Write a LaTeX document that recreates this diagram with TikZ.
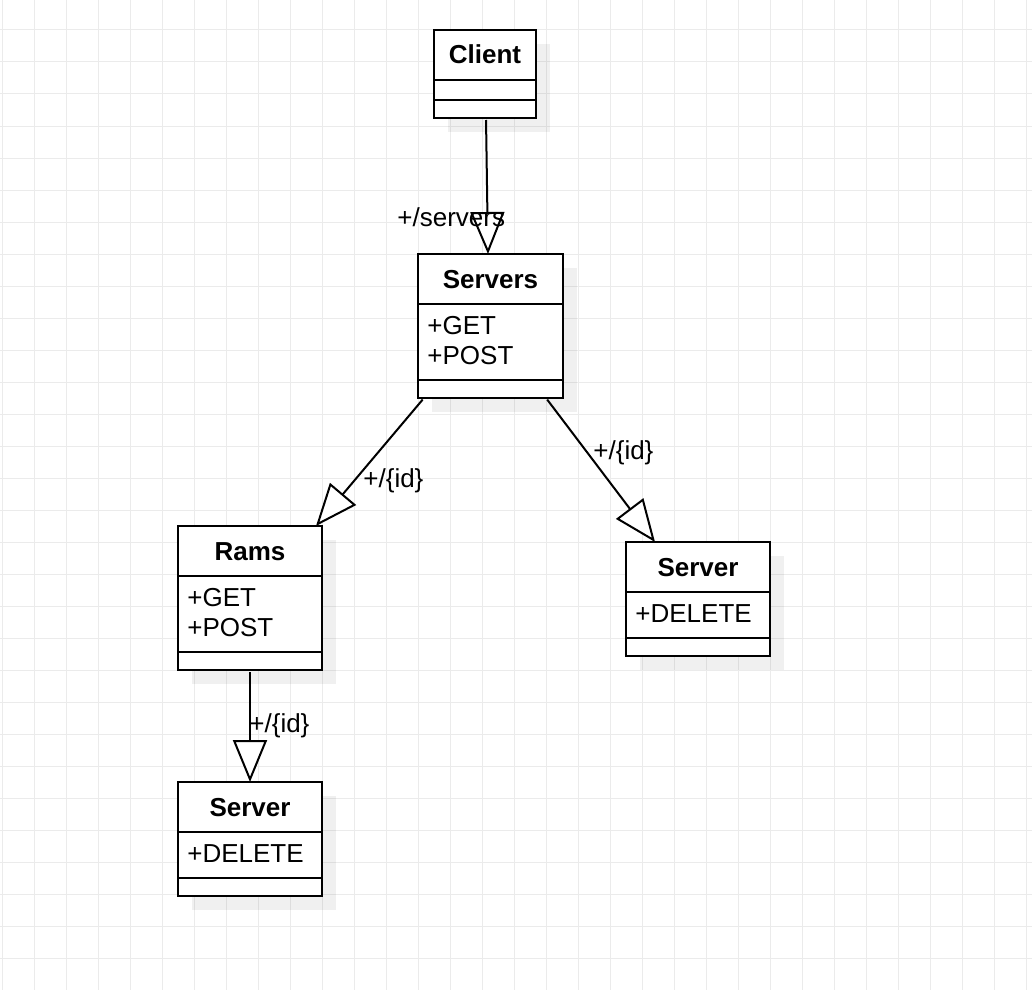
\documentclass[tikz,border=0pt]{standalone}
\usepackage{fontspec}
\setmainfont{Liberation Sans}
\usetikzlibrary{arrows.meta,shadows,calc}
\definecolor{gridgray}{RGB}{235,235,235}
\begin{document}
\begin{tikzpicture}[
      x=0.5pt, y=-0.5pt, % one unit = one pixel of the sketch
      font=\fontsize{13}{15}\selectfont,
      classbox/.style={draw, line width=1pt, fill=white, inner sep=0pt, outer sep=0pt,
        anchor=north west,
        drop shadow={shadow xshift=7pt, shadow yshift=-7pt, fill=black!50, opacity=0.12}},
      divider/.style={line width=1pt},
      classname/.style={font=\fontsize{13}{15}\selectfont\bfseries, inner sep=0pt, anchor=base},
      member/.style={inner sep=0pt, anchor=base west},
      lbl/.style={inner sep=0pt, anchor=base west},
      link/.style={line width=1pt, shorten <=1pt,
        -{Triangle[fill=white, length=21pt, width=17pt]}}
  ]

\useasboundingbox (0,0) rectangle (1032,990);

% background grid
\foreach \gx in {2,34,...,1026}
    \draw[gridgray, line width=0.5pt] (\gx,0) -- (\gx,990);
\foreach \gy in {30,62,...,958}
    \draw[gridgray, line width=0.5pt] (0,\gy) -- (1032,\gy);

% classes
\node[classbox, minimum width=51pt, minimum height=44pt] (client) at (434,30) {};
\node[classbox, minimum width=72.5pt, minimum height=72pt] (servers) at (418,254) {};
\node[classbox, minimum width=72pt, minimum height=72pt] (rams) at (178,526) {};
\node[classbox, minimum width=72pt, minimum height=57pt] (server) at (626,542) {};
\node[classbox, minimum width=72pt, minimum height=57pt] (ramserver) at (178,782) {};

\foreach \n/\d in {client/50, client/70, servers/50, servers/126, rams/50, rams/126,
                   server/50, server/96, ramserver/50, ramserver/96}
    \draw[divider] ($(\n.north west)+(0,\d)$) -- ($(\n.north east)+(0,\d)$);

\foreach \n/\t in {client/Client, servers/Servers, rams/Rams, server/Server, ramserver/Server}
    \node[classname] (\n-name) at ($(\n.north)+(0,34)$) {\t};

\node[member] (servers-get) at ($(servers.north west)+(9,80)$) {+GET};
\node[member] (servers-post) at ($(servers.north west)+(9,110)$) {+POST};
\node[member] (rams-get) at ($(rams.north west)+(9,80)$) {+GET};
\node[member] (rams-post) at ($(rams.north west)+(9,110)$) {+POST};
\node[member] (server-delete) at ($(server.north west)+(9,80)$) {+DELETE};
\node[member] (ramserver-delete) at ($(ramserver.north west)+(9,80)$) {+DELETE};

% connectors
\draw[link] ([xshift=0.5pt]client.south) -- ([xshift=-1.25pt]servers.north);
\draw[link] ([xshift=3pt]servers.south west) -- ([xshift=-3pt]rams.north east);
\draw[link] ([xshift=-8.5pt]servers.south east) -- ([xshift=14.5pt]server.north west);
\draw[link] (rams.south) -- (ramserver.north);

\node[lbl] (lbl-servers) at (397,226) {+/servers};
\node[lbl] (lbl-rams) at (363,487) {+/\{id\}};
\node[lbl] (lbl-server) at (593,459) {+/\{id\}};
\node[lbl] (lbl-ramserver) at (249,732) {+/\{id\}};

\end{tikzpicture}
\end{document}
